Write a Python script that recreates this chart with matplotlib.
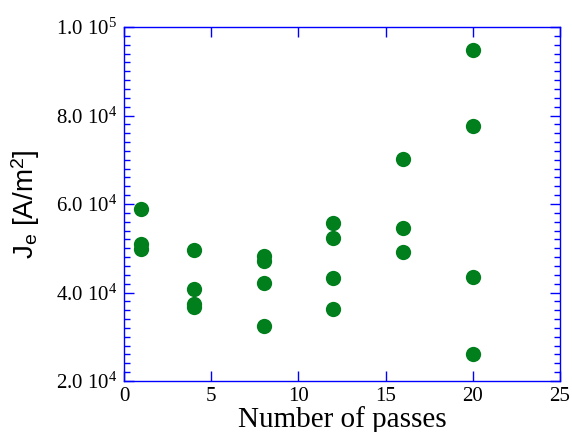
import numpy as np
import matplotlib
matplotlib.use("Agg")
import matplotlib.pyplot as plt
from matplotlib.ticker import MultipleLocator, FuncFormatter

plt.rcParams['font.family'] = 'Liberation Serif'
plt.rcParams['mathtext.fontset'] = 'custom'
plt.rcParams['mathtext.rm'] = 'Liberation Serif'
plt.rcParams['mathtext.sf'] = 'Liberation Sans'
plt.rcParams['mathtext.it'] = 'Liberation Serif:italic'

# number of passes and measured current density
passes = [1, 1, 1,
          4, 4, 4, 4,
          8, 8, 8, 8,
          12, 12, 12, 12,
          16, 16, 16,
          20, 20, 20, 20]
je = [58800, 50900, 49800,
      49700, 40900, 37500, 36800,
      48200, 47200, 42100, 32500,
      55600, 52300, 43300, 36300,
      70100, 54500, 49200,
      94800, 77600, 43600, 26100]

xticks = [0, 5, 10, 15, 20, 25]
yticks = [2.0e4, 4.0e4, 6.0e4, 8.0e4, 1.0e5]

blue = '#0000ff'
green = '#007f1c'

fig = plt.figure(figsize=(5.72, 4.32), dpi=100)
ax = fig.add_axes([0.2168, 0.118, 0.979 - 0.2168, 0.9375 - 0.118])

ax.plot(passes, je, 'o', color=green, markersize=11, markeredgewidth=0)

ax.set_xlim(0, 25)
ax.set_ylim(2e4, 1e5)
ax.set_xticks(xticks)
ax.set_yticks(yticks)
ax.yaxis.set_minor_locator(MultipleLocator(2000))


def sci(v, pos):
    e = int(np.floor(np.log10(v)))
    return r'%.1f 10$^{%d}$' % (v / 10 ** e, e)


ax.yaxis.set_major_formatter(FuncFormatter(sci))

for s in ax.spines.values():
    s.set_color(blue)
    s.set_linewidth(1.0)
ax.tick_params(which='both', direction='in', color=blue, top=True, right=True,
               labelsize=15, width=1.0)
ax.tick_params(which='major', length=7, pad=4)
ax.tick_params(which='minor', length=4)
ax.tick_params(axis='y', pad=5)

ax.set_xlabel('Number of passes', fontsize=21, labelpad=0)
ax.set_ylabel(r'$\mathsf{J}_\mathsf{e}$ [A/m$^\mathsf{2}$]', fontsize=20,
              family='Liberation Sans', labelpad=10)

fig.savefig('out.png', dpi=100)
